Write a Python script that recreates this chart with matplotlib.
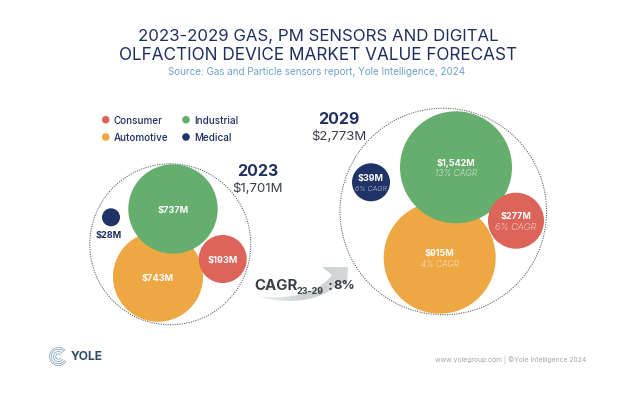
import matplotlib
matplotlib.use('Agg')
import matplotlib.pyplot as plt
import numpy as np
from matplotlib.colors import LinearSegmentedColormap
from matplotlib.patches import Circle, PathPatch, Arc
from matplotlib.path import Path

segments = ['Consumer', 'Industrial', 'Automotive', 'Medical']
values_2023 = [193, 737, 743, 28]
values_2029 = [277, 1542, 915, 39]
cagr_2029 = [6, 13, 4, 6]
total_2023 = 1701
total_2029 = 2773
total_cagr = 8

NAVY = '#1f2f5f'
DARK = '#3a3f48'
colors = {'Consumer': '#dc6458', 'Industrial': '#66ae6e',
          'Automotive': '#eda743', 'Medical': '#1f3366'}

# bubbles are placed by hand in the original, (x, y, r) in pixels
layout_2023 = {'Consumer': (222.7, 260, 24), 'Industrial': (173, 210, 44.7),
               'Automotive': (158, 277.7, 45), 'Medical': (111, 218.3, 9)}
layout_2029 = {'Consumer': (516, 221.7, 28), 'Industrial': (456, 168.3, 56),
               'Automotive': (439.7, 258.7, 56), 'Medical': (371, 183.3, 19)}
cagr_size = {'Consumer': 6.6, 'Industrial': 6.2, 'Automotive': 6.0, 'Medical': 5.1}

plt.rcParams['font.family'] = ['Inter', 'DejaVu Sans']

fig = plt.figure(figsize=(6.38, 4.02), dpi=100)
ax = fig.add_axes([0, 0, 1, 1])
ax.set_xlim(0, 638)
ax.set_ylim(402, 0)
ax.axis('off')


def money(v):
    return '${:,}M'.format(v)


ax.text(318, 37, '2023-2029 GAS, PM SENSORS AND DIGITAL', ha='center', va='center',
        fontsize=12.1, color=NAVY)
ax.text(318, 55.5, 'OLFACTION DEVICE MARKET VALUE FORECAST', ha='center', va='center',
        fontsize=12.35, color=NAVY)
ax.text(317, 72, 'Source: Gas and Particle sensors report, Yole Intelligence, 2024',
        ha='center', va='center', fontsize=7.1, color='#6fa3c7')

# legend
legend_pos = [(105.7, 120.7), (186, 120.7), (105.7, 138), (186, 138)]
for name, (lx, ly) in zip(segments, legend_pos):
    ax.add_patch(Circle((lx, ly), 3.8, color=colors[name], lw=0))
    ax.text(lx + 8, ly, name, va='center', fontsize=7.1, color=NAVY, fontweight='medium')

# dotted outlines
for cx, cy, r in [(170.3, 245.3, 80.5), (443.3, 212.5, 103.3)]:
    ax.add_patch(Circle((cx, cy), r, fill=False, ec='#555c68', lw=0.7, ls=(0, (1.2, 1.2))))

# bubbles, orange goes under green
for name in ['Automotive', 'Industrial', 'Consumer', 'Medical']:
    x, y, r = layout_2023[name]
    ax.add_patch(Circle((x, y), r, color=colors[name], lw=0))
    x, y, r = layout_2029[name]
    ax.add_patch(Circle((x, y), r, color=colors[name], lw=0))

for name, v in zip(segments, values_2023):
    x, y, r = layout_2023[name]
    if name == 'Medical':
        ax.text(109, 236, money(v), ha='center', va='center', fontsize=6.6,
                color=NAVY, fontweight='bold')
    else:
        ax.text(x, y + 0.5, money(v), ha='center', va='center', fontsize=6.6,
                color='white', fontweight='bold')

for name, v, c in zip(segments, values_2029, cagr_2029):
    x, y, r = layout_2029[name]
    ax.text(x, y - 5, money(v), ha='center', va='center', fontsize=6.5,
            color='white', fontweight='bold')
    ax.text(x, y + 5.5, '{}% CAGR'.format(c), ha='center', va='center',
            fontsize=cagr_size[name], color='white', alpha=0.92, style='italic',
            fontweight='light')

ax.text(257.5, 172, '2023', ha='center', va='center', fontsize=11.5, color=NAVY, fontweight='bold')
ax.text(257.5, 189, money(total_2023), ha='center', va='center', fontsize=9.5, color=DARK)
ax.text(339, 120, '2029', ha='center', va='center', fontsize=11.5, color=NAVY, fontweight='bold')
ax.text(339, 137, money(total_2029), ha='center', va='center', fontsize=9.5, color=DARK)

# swoosh arrow behind the CAGR text, fades out to the left
verts = [(258, 297), (285, 301), (316, 296), (332, 276), (322, 268), (348, 268), (347, 288),
         (340, 281), (330, 300), (290, 308), (258, 297)]
codes = [Path.MOVETO, Path.CURVE4, Path.CURVE4, Path.CURVE4, Path.LINETO, Path.LINETO, Path.LINETO,
         Path.LINETO, Path.CURVE4, Path.CURVE4, Path.CURVE4]
swoosh = PathPatch(Path(verts, codes), fc='none', ec='none')
ax.add_patch(swoosh)
fade = LinearSegmentedColormap.from_list('fade', ['#f2f4f3', '#ccd2d1', '#d3d8d7'])
img = ax.imshow(np.linspace(0, 1, 100).reshape(1, -1), cmap=fade, extent=(258, 348, 308, 268),
                aspect='auto', zorder=1.5)
img.set_clip_path(swoosh)
ax.set_xlim(0, 638)
ax.set_ylim(402, 0)

ax.text(254, 286, 'CAGR', va='center', fontsize=10.8, color=DARK, fontweight='bold', zorder=3)
ax.text(296.5, 292, '23-29', va='center', fontsize=6.5, color=DARK, fontweight='bold', zorder=3)
ax.text(327.5, 286, ':', va='center', fontsize=10.4, color=DARK, fontweight='bold', zorder=3)
ax.text(355, 286, '{}%'.format(total_cagr), ha='right', va='center', fontsize=9.4,
        color=DARK, fontweight='bold', zorder=3)

# logo
for r in [3, 5.5, 8, 10]:
    ax.add_patch(Arc((58.5, 357.5), r * 1.8, r * 1.8, theta1=30, theta2=320, color='#7fa3bd', lw=0.55))
ax.text(71, 357, 'YOLE', va='center', fontsize=8.7, color='#2e4a66', fontweight='bold')

ax.text(586, 360, 'www.yolegroup.com | \u00a9Yole Intelligence 2024', ha='right', va='center',
        fontsize=4.9, color='#a3a7ab')

fig.savefig('out.png', dpi=100)
